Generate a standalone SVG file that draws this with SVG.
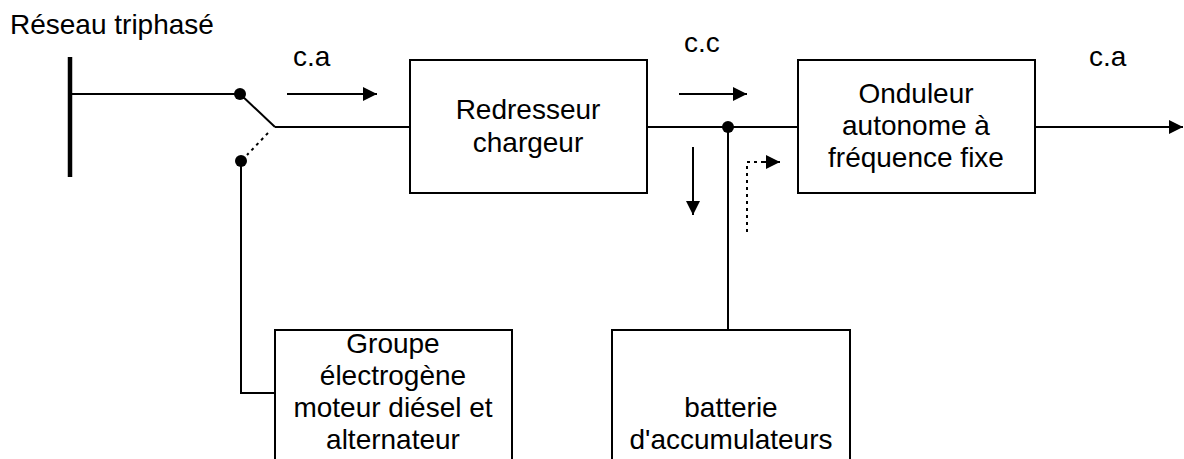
<svg xmlns="http://www.w3.org/2000/svg" width="1184" height="459" viewBox="0 0 1184 459">
<defs>
<style>
.t{font-family:"Liberation Sans",Arial,sans-serif;font-size:28px;fill:#000}
.m{text-anchor:middle}
.box{fill:#fff;stroke:#000;stroke-width:2}
.ln{stroke:#000;stroke-width:2;fill:none}
.dot{stroke:#000;stroke-width:2;fill:none;stroke-dasharray:3 4}
</style>
<marker id="ah" viewBox="0 0 10 10" refX="10" refY="5" markerWidth="16" markerHeight="14" markerUnits="userSpaceOnUse" orient="auto">
<path d="M0,0 L10,5 L0,10 z" fill="#000"/>
</marker>
</defs>
<rect width="1184" height="459" fill="#fff"/>
<g id="connectors">
<line x1="70" y1="57" x2="70" y2="177" stroke="#000" stroke-width="4.5"/>
<line class="ln" x1="70" y1="94" x2="240" y2="94"/>
<line class="ln" x1="240" y1="94" x2="275" y2="127"/>
<line class="dot" x1="268" y1="133" x2="247" y2="155"/>
<line class="ln" x1="275" y1="127" x2="410" y2="127"/>
<circle cx="240" cy="94" r="6" fill="#000"/>
<circle cx="241" cy="161" r="6" fill="#000"/>
<polyline class="ln" points="241,161 241,393 276,393"/>
<line class="ln" x1="287" y1="94" x2="377" y2="94" marker-end="url(#ah)"/>
<line class="ln" x1="647" y1="127" x2="803" y2="127"/>
<circle cx="728" cy="127" r="6" fill="#000"/>
<line class="ln" x1="728" y1="127" x2="728" y2="330"/>
<line class="ln" x1="679" y1="94" x2="747" y2="94" marker-end="url(#ah)"/>
<line class="ln" x1="693" y1="147" x2="693" y2="215" marker-end="url(#ah)"/>
<polyline class="dot" points="747,232 747,162 765,162"/>
<line x1="764" y1="162" x2="780" y2="162" stroke="#000" stroke-width="2" marker-end="url(#ah)"/>
<line class="ln" x1="1036" y1="127" x2="1183" y2="127" marker-end="url(#ah)"/>
</g>
<g id="label-reseau"><text class="t" x="10" y="34">Réseau triphasé</text></g>
<g id="label-ca1"><text class="t" x="293" y="66">c.a</text></g>
<g id="label-cc"><text class="t" x="684" y="52">c.c</text></g>
<g id="label-ca2"><text class="t" x="1089" y="66">c.a</text></g>
<g id="redresseur">
<rect class="box" x="410" y="60" width="237" height="133"/>
<text class="t m" x="528" y="119">Redresseur</text>
<text class="t m" x="528" y="152">chargeur</text>
</g>
<g id="onduleur">
<rect class="box" x="798" y="60" width="237" height="133"/>
<text class="t m" x="916" y="103">Onduleur</text>
<text class="t m" x="916" y="135">autonome à</text>
<text class="t m" x="916" y="167">fréquence fixe</text>
</g>
<g id="groupe">
<rect class="box" x="275" y="330" width="237" height="140"/>
<text class="t m" x="393" y="353">Groupe</text>
<text class="t m" x="393" y="385">électrogène</text>
<text class="t m" x="393" y="417">moteur diésel et</text>
<text class="t m" x="393" y="449">alternateur</text>
</g>
<g id="batterie">
<rect class="box" x="612" y="330" width="238" height="140"/>
<text class="t m" x="731" y="417">batterie</text>
<text class="t m" x="731" y="449">d'accumulateurs</text>
</g>
</svg>
